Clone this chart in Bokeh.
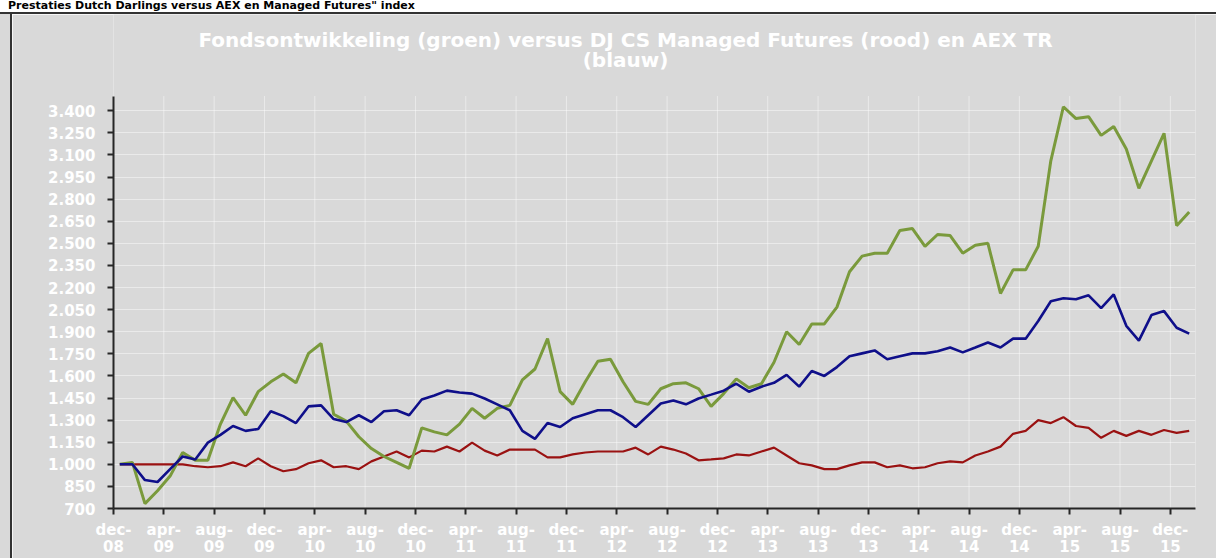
from bokeh.plotting import figure
from bokeh.models import FixedTicker, Label, Range1d, ColumnDataSource, Div
from bokeh.layouts import column, row
from bokeh.embed import file_html
from bokeh.resources import INLINE

# ---------------- data (monthly, dec-08 .. jan-16) ----------------
fund = [1000, 1013, 733, 820, 920, 1080, 1027, 1027, 1273, 1453,
        1333, 1493, 1560, 1613, 1553, 1753, 1820, 1340, 1293, 1187,
        1107, 1053, 1013, 973, 1247, 1220, 1200, 1273, 1380, 1313,
        1380, 1400, 1573, 1647, 1853, 1493, 1407, 1560, 1700, 1713,
        1560, 1427, 1407, 1513, 1547, 1553, 1513, 1393, 1480, 1580,
        1520, 1547, 1693, 1900, 1813, 1953, 1953, 2067, 2307, 2413,
        2433, 2433, 2587, 2600, 2480, 2560, 2553, 2433, 2487, 2500,
        2160, 2320, 2320, 2480, 3060, 3427, 3347, 3360, 3233, 3293,
        3140, 2873, 3060, 3247, 2620, 2713]

aex = [1000, 1000, 893, 880, 967, 1053, 1033, 1147, 1200, 1260,
       1227, 1240, 1360, 1327, 1280, 1393, 1400, 1307, 1287, 1333,
       1287, 1360, 1367, 1333, 1440, 1467, 1500, 1487, 1480, 1447,
       1407, 1367, 1227, 1173, 1280, 1253, 1313, 1340, 1367, 1367,
       1320, 1253, 1333, 1413, 1433, 1407, 1447, 1473, 1500, 1547,
       1493, 1527, 1553, 1607, 1527, 1633, 1600, 1660, 1733, 1753,
       1773, 1713, 1733, 1753, 1753, 1767, 1793, 1760, 1793, 1827,
       1793, 1853, 1853, 1973, 2107, 2127, 2120, 2147, 2060, 2153,
       1940, 1840, 2013, 2040, 1927, 1887]

managed_futures = [1000, 1000, 1000, 1000, 1000, 1000, 987, 980, 987, 1013,
                   987, 1040, 987, 953, 967, 1007, 1027, 980, 987, 967,
                   1020, 1053, 1087, 1047, 1093, 1087, 1120, 1087, 1147, 1093,
                   1060, 1100, 1100, 1100, 1047, 1047, 1067, 1080, 1087, 1087,
                   1087, 1113, 1067, 1120, 1100, 1073, 1027, 1033, 1040, 1067,
                   1060, 1087, 1113, 1060, 1007, 993, 967, 967, 993, 1013,
                   1013, 980, 993, 973, 980, 1007, 1020, 1013, 1060, 1087,
                   1120, 1207, 1227, 1300, 1280, 1320, 1260, 1247, 1180, 1227,
                   1193, 1227, 1200, 1233, 1213, 1227]

tick_labels = ["dec-\n08", "apr-\n09", "aug-\n09", "dec-\n09", "apr-\n10", "aug-\n10",
               "dec-\n10", "apr-\n11", "aug-\n11", "dec-\n11", "apr-\n12", "aug-\n12",
               "dec-\n12", "apr-\n13", "aug-\n13", "dec-\n13", "apr-\n14", "aug-\n14",
               "dec-\n14", "apr-\n15", "aug-\n15", "dec-\n15"]
tick_step = 4  # months between labelled ticks

y_ticks = [700, 850, 1000, 1150, 1300, 1450, 1600, 1750, 1900, 2050, 2200,
           2350, 2500, 2650, 2800, 2950, 3100, 3250, 3400]
y_tick_labels = ["700", "850", "1.000", "1.150", "1.300", "1.450", "1.600", "1.750",
                 "1.900", "2.050", "2.200", "2.350", "2.500", "2.650", "2.800",
                 "2.950", "3.100", "3.250", "3.400"]
y_axis_min, y_axis_max = 700, 3500

title_line1 = "Fondsontwikkeling (groen) versus DJ CS Managed Futures (rood) en AEX TR"
title_line2 = "(blauw)"
header = "Prestaties Dutch Darlings versus AEX en Managed Futures\" index"

# ---------------- layout / styling ----------------
GREY = "#d9d9d9"
GREEN = "#7a9a3c"
BLUE = "#0f0f8a"
RED = "#9a1212"
AXIS = "#262626"
BORDER = "#333333"
PAGE_W = 1216
HEAD_H = 14                 # white header strip (incl. dark rule)
H = 558 - HEAD_H            # figure height
LEFT_PAD, LEFT_RULE = 10, 2  # grey margin and dark rule left of the panel
W = PAGE_W - LEFT_PAD - LEFT_RULE
X0 = LEFT_PAD + LEFT_RULE   # page x where the figure starts
FRAME_L, FRAME_R = 113, 1195  # page x of the plot frame
BOTTOM_BORDER = 43
PX_PER_UNIT = 0.1494        # vertical pixels per index point
frame_h = H - BOTTOM_BORDER
y_top = y_axis_min + frame_h / PX_PER_UNIT   # frame reaches up to the figure top


def y_at(page_y):
    """value at a given page pixel row (figure starts at HEAD_H)."""
    return y_top - (page_y - HEAD_H) / PX_PER_UNIT


n = len(fund)
xs = [i + 0.5 for i in range(n)]
src = ColumnDataSource(dict(x=xs, fund=fund, aex=aex, mf=managed_futures))

p = figure(width=W, height=H, output_backend="svg", toolbar_location=None,
           x_range=Range1d(0, n), y_range=Range1d(y_axis_min, y_top),
           min_border_left=FRAME_L - X0, min_border_right=PAGE_W - FRAME_R,
           min_border_top=0, min_border_bottom=BOTTOM_BORDER,
           background_fill_color=GREY, border_fill_color=GREY,
           outline_line_color=None, margin=0)

xticks = list(range(0, tick_step * len(tick_labels), tick_step))
p.xaxis.ticker = FixedTicker(ticks=xticks)
p.xaxis.major_label_overrides = {t: s for t, s in zip(xticks, tick_labels)}
p.yaxis.ticker = FixedTicker(ticks=y_ticks)
p.yaxis.major_label_overrides = {t: s for t, s in zip(y_ticks, y_tick_labels)}
p.yaxis.bounds = (y_axis_min, y_axis_max)

for ax in (p.xaxis[0], p.yaxis[0]):
    ax.axis_line_color = AXIS
    ax.axis_line_width = 2
    ax.major_tick_line_color = AXIS
    ax.major_tick_line_width = 2
    ax.major_tick_out = 6
    ax.major_tick_in = 0
    ax.minor_tick_line_color = None
    ax.major_label_text_color = "white"
    ax.major_label_text_font = "DejaVu Sans"
    ax.major_label_text_font_style = "bold"

p.xaxis.major_label_text_font_size = "15px"
p.xaxis.major_label_text_line_height = 0.95
p.xaxis.major_label_standoff = 6
p.yaxis.major_label_text_font_size = "15px"
p.yaxis.major_label_standoff = 12

# horizontal grid from the axis ticker, vertical grid lines only up to the axis top
p.ygrid.ticker = FixedTicker(ticks=y_ticks)
p.ygrid.grid_line_color = "white"
p.ygrid.grid_line_alpha = 0.45
p.ygrid.grid_line_width = 1
p.xgrid.grid_line_color = None
p.segment(x0=xticks, y0=[y_axis_min] * len(xticks), x1=xticks,
          y1=[y_axis_max] * len(xticks), line_color="white", line_alpha=0.45,
          line_width=1)

p.line("x", "mf", source=src, color=RED, line_width=2.2)
p.line("x", "fund", source=src, color=GREEN, line_width=3)
p.line("x", "aex", source=src, color=BLUE, line_width=2.6)

title_x = (625 - FRAME_L) / (FRAME_R - FRAME_L) * n
for txt, py in ((title_line1, 40), (title_line2, 60)):
    p.add_layout(Label(x=title_x, y=y_at(py), text=txt, text_align="center",
                       text_baseline="middle", text_color="white",
                       text_font="DejaVu Sans", text_font_style="bold",
                       text_font_size="20px"))

head = Div(text=header, width=PAGE_W, height=HEAD_H, margin=0,
           styles={"background-color": "white", "color": "black",
                   "font-family": "DejaVu Sans", "font-weight": "bold",
                   "font-size": "11px", "line-height": "12px",
                   "padding-left": "8px", "box-sizing": "border-box",
                   "border-bottom": "2px solid " + BORDER, "overflow": "hidden",
                   "white-space": "nowrap"})
left_pad = Div(text="", width=LEFT_PAD, height=H, margin=0,
               styles={"background-color": GREY})
left_rule = Div(text="", width=LEFT_RULE, height=H, margin=0,
                styles={"background-color": BORDER})

layout = column(head, row(left_pad, left_rule, p, spacing=0), spacing=0)

open("out.html", "w").write(file_html(layout, INLINE))
